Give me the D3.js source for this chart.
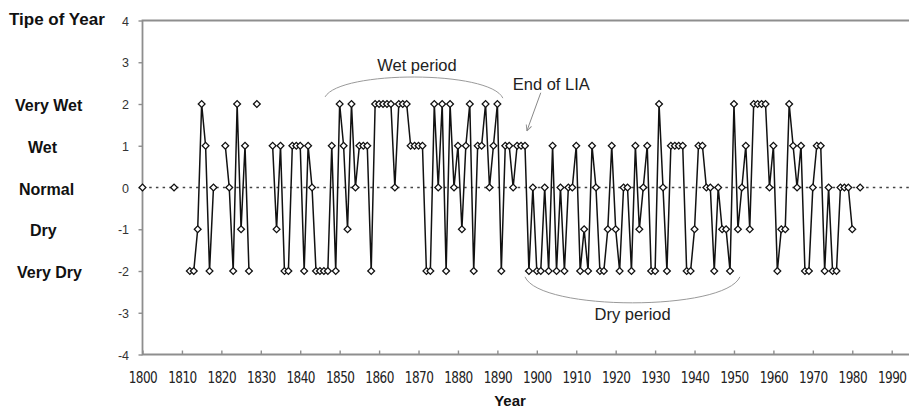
<!DOCTYPE html>
<html><head><meta charset="utf-8">
<script src="https://cdn.jsdelivr.net/npm/d3@7"></script>
<style>
html,body{margin:0;padding:0;background:#fff;}
svg{display:block;font-family:"Liberation Sans",Arial,sans-serif;}
</style></head><body>
<svg id="chart" width="909" height="411"></svg>
<script>
// ---------- DATA ----------
const startYear = 1800;
// Type of year (-2 very dry ... 2 very wet), null = no record
const values = [
  0, null, null, null, null, null, null, null, 0, null,            // 1800-1809
  null, null, -2, -2, -1, 2, 1, -2, 0, null,                      // 1810-1819
  null, 1, 0, -2, 2, -1, 1, -2, null, 2,                          // 1820-1829
  null, null, null, 1, -1, 1, -2, -2, 1, 1,                       // 1830-1839
  1, -2, 1, 0, -2, -2, -2, -2, 1, -2,                             // 1840-1849
  2, 1, -1, 2, 0, 1, 1, 1, -2, 2,                                 // 1850-1859
  2, 2, 2, 2, 0, 2, 2, 2, 1, 1,                                   // 1860-1869
  1, 1, -2, -2, 2, 0, 2, -2, 2, 0,                                // 1870-1879
  1, -1, 1, 2, -2, 1, 1, 2, 0, 1,                                 // 1880-1889
  2, -2, 1, 1, 0, 1, 1, 1, -2, 0,                                 // 1890-1899
  -2, -2, 0, -2, 1, -2, 0, -2, 0, 0,                              // 1900-1909
  1, -2, -1, -2, 1, 0, -2, -2, -1, 1,                             // 1910-1919
  -1, -2, 0, 0, -2, 1, -1, 0, 1, -2,                              // 1920-1929
  -2, 2, 0, -2, 1, 1, 1, 1, -2, -2,                               // 1930-1939
  -1, 1, 1, 0, 0, -2, 0, -1, -1, -2,                              // 1940-1949
  2, -1, 0, 1, -1, 2, 2, 2, 2, 0,                                 // 1950-1959
  1, -2, -1, -1, 2, 1, 0, 1, -2, -2,                              // 1960-1969
  0, 1, 1, -2, 0, -2, -2, 0, 0, 0,                                // 1970-1979
  -1, null, 0                                                     // 1980-1982
];
const years = values.map((v, i) => startYear + i);
const xTicks = [1800,1810,1820,1830,1840,1850,1860,1870,1880,1890,1900,1910,1920,1930,1940,1950,1960,1970,1980,1990];
const yTicks = [-4,-3,-2,-1,0,1,2,3,4];
const categoryLabels = ["Very Wet", "Wet", "Normal", "Dry", "Very Dry"];
const categoryValues = [2, 1, 0, -1, -2];

// ---------- LAYOUT ----------
const W = 909, H = 411;
const plot = {left: 142.5, right: 909, top: 20.5, bottom: 354.5};
const catLabelX = [15, 28, 19, 30, 17];

const svg = d3.select("#chart");
const x = d3.scaleLinear().domain([1800, 1990]).range([142.5, 891.7]);
const y = d3.scaleLinear().domain([-4, 4]).range([plot.bottom, plot.top]);

const axisColor = "#8e8e8e";

// frame
svg.append("path")
  .attr("d", `M${plot.right+5},${plot.top}H${plot.left}V${plot.bottom}H${plot.right+5}`)
  .attr("fill", "none").attr("stroke", axisColor).attr("stroke-width", 1.8);

// y axis
const yAxis = svg.append("g").attr("transform", `translate(${plot.left},0)`)
  .call(d3.axisLeft(y).tickValues(yTicks).tickFormat(d => String(d)).tickSize(4).tickPadding(9.5));
yAxis.select(".domain").remove();
yAxis.selectAll(".tick line").attr("stroke", axisColor).attr("stroke-width", 1.4);
yAxis.selectAll(".tick text").attr("font-size", 12.5).attr("fill", "#333")
  .attr("font-family", "'Liberation Sans',Arial,sans-serif").attr("dy", "0.36em");

// x axis
const xAxis = svg.append("g").attr("transform", `translate(0,${plot.bottom})`)
  .call(d3.axisBottom(x).tickValues(xTicks).tickFormat(d => String(d)).tickSize(-4).tickPadding(17.5));
xAxis.select(".domain").remove();
xAxis.selectAll(".tick line").attr("stroke", axisColor).attr("stroke-width", 1.4);
xAxis.selectAll(".tick text").attr("font-size", 15).attr("fill", "#222")
  .attr("font-family", "'Liberation Sans Narrow','Arial Narrow','DejaVu Sans Condensed','Liberation Sans',sans-serif")
  .style("font-stretch", "condensed")
  .attr("letter-spacing", "-0.6")
  .each(function(){
    const len = this.getComputedTextLength();
    if (len > 29.5) { d3.select(this).attr("textLength", 28.5).attr("lengthAdjust", "spacingAndGlyphs"); }
  });

// axis titles
svg.append("text").attr("x", 9).attr("y", 25).attr("font-size", 17).attr("font-weight", "bold")
  .attr("fill", "#111").text("Tipe of Year");
svg.append("text").attr("x", 510).attr("y", 406).attr("text-anchor", "middle")
  .attr("font-size", 15).attr("font-weight", "bold").attr("fill", "#111").text("Year");

// category labels
svg.selectAll("text.cat").data(categoryLabels).join("text").attr("class", "cat")
  .attr("x", (d, i) => catLabelX[i]).attr("y", (d, i) => y(categoryValues[i]) + 7)
  .attr("font-size", 16).attr("font-weight", "bold").attr("fill", "#111").text(d => d);

// zero dotted line
svg.append("line").attr("x1", plot.left).attr("x2", W).attr("y1", y(0)).attr("y2", y(0))
  .attr("stroke", "#444").attr("stroke-width", 1.5).attr("stroke-dasharray", "2.5,4.2");

// annotations
const annColor = "#9a9a9a";
const ann = svg.append("g");
ann.append("path")
  .attr("d", `M${x(1846.3)},${y(2.17)} C${x(1850.1)},${y(2.81)} ${x(1888.1)},${y(2.81)} ${x(1891.4)},${y(2.14)}`)
  .attr("fill", "none").attr("stroke", annColor).attr("stroke-width", 1);
ann.append("path")
  .attr("d", `M${x(1897.0)},${y(-2.14)} C${x(1900.8)},${y(-2.97)} ${x(1947.7)},${y(-2.97)} ${x(1951.5)},${y(-2.14)}`)
  .attr("fill", "none").attr("stroke", annColor).attr("stroke-width", 1);
svg.append("defs").append("marker").attr("id", "arr").attr("viewBox", "0 0 10 10")
  .attr("refX", 9).attr("refY", 5).attr("markerWidth", 7).attr("markerHeight", 7)
  .attr("orient", "auto").attr("markerUnits", "userSpaceOnUse")
  .append("path").attr("d", "M1,1L9,5L1,9").attr("fill", "none").attr("stroke", "#888").attr("stroke-width", 1.3);
ann.append("line").attr("x1", x(1901.0)).attr("y1", y(2.27)).attr("x2", x(1897.5)).attr("y2", y(1.36))
  .attr("stroke", "#888").attr("stroke-width", 1).attr("marker-end", "url(#arr)");
ann.append("text").attr("x", x(1869.6)).attr("y", y(2.79)).attr("text-anchor", "middle")
  .attr("font-size", 16.5).attr("fill", "#222").text("Wet period");
ann.append("text").attr("x", x(1893.9)).attr("y", y(2.34)).attr("text-anchor", "start")
  .attr("font-size", 16.5).attr("fill", "#222").text("End of LIA");
ann.append("text").attr("x", x(1924.3)).attr("y", y(-3.17)).attr("text-anchor", "middle")
  .attr("font-size", 16.5).attr("fill", "#222").text("Dry period");

// series line
const pts = years.map((yr, i) => ({year: yr, v: values[i]}));
const line = d3.line().defined(d => d.v !== null).x(d => x(d.year)).y(d => y(d.v));
svg.append("path").datum(pts).attr("d", line)
  .attr("fill", "none").attr("stroke", "#111").attr("stroke-width", 1.5).attr("stroke-linejoin", "round");

// markers
const sym = d3.symbol(d3.symbolSquare, 23);
svg.append("g").selectAll("path").data(pts.filter(d => d.v !== null)).join("path")
  .attr("d", sym)
  .attr("transform", d => `translate(${x(d.year)},${y(d.v)}) rotate(45)`)
  .attr("fill", "#fff").attr("stroke", "#111").attr("stroke-width", 1.3);
</script>
</body></html>
